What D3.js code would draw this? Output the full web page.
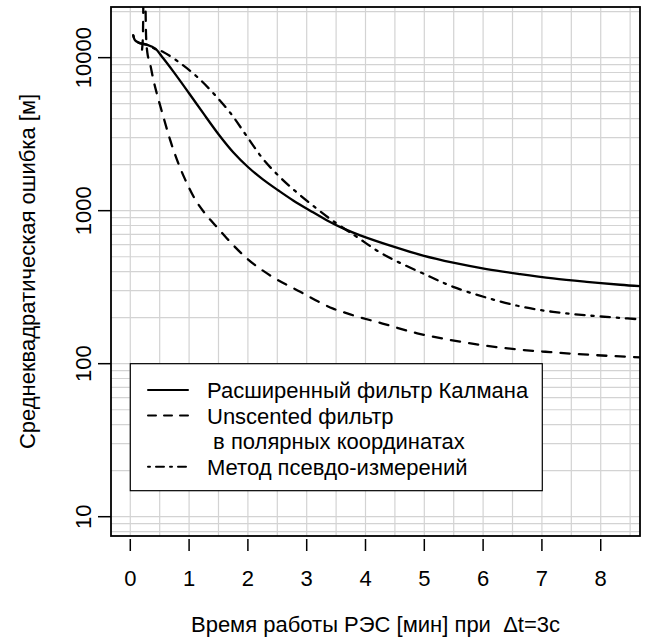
<!DOCTYPE html>
<html lang="ru">
<head>
<meta charset="utf-8">
<title>Среднеквадратическая ошибка</title>
<style>
  body { margin: 0; background: #fff; }
  text { font-family: "Liberation Sans", Arial, Helvetica, sans-serif; fill: #000; white-space: pre; }
</style>
</head>
<body>
<script src="https://d3js.org/d3.v7.min.js"></script>
<script>

var w = 645, h = 638;

// время работы [мин] и ошибка [м] для трёх методов
var ekfX = [0.05, 0.08, 0.15, 0.28, 0.42, 0.56, 0.73, 0.99, 1.24, 1.50, 1.75, 2.01, 2.26, 2.52, 2.77, 3.06, 3.34, 3.62, 3.91, 4.53, 4.98, 5.49, 6.06, 6.63, 7.19, 7.76, 8.33, 8.67];
var ekfY = [14000, 13000, 12500, 12150, 11500, 9900, 8130, 5920, 4335, 3160, 2410, 1915, 1596, 1355, 1167, 1000, 867, 766, 690, 573, 508, 457, 415, 385, 361, 343, 328, 321];

var ukfX = [0.20, 0.215, 0.235, 0.25, 0.268, 0.29, 0.335, 0.39, 0.48, 0.56, 0.675, 0.79, 0.93, 1.10, 1.30, 1.50, 1.64, 1.99, 2.38, 2.89, 3.45, 3.74, 4.29, 4.88, 5.44, 6.00, 6.58, 7.14, 7.70, 8.67];
var ukfY = [11300, 14000, 60000, 40000, 14000, 10800, 9200, 7250, 5310, 4140, 2920, 2170, 1607, 1190, 929, 760, 661, 485, 377, 295, 229, 210, 183, 158, 143, 132, 124, 119, 115, 110];

var pmX = [0.05, 0.08, 0.15, 0.28, 0.42, 0.56, 0.85, 1.13, 1.41, 1.70, 1.98, 2.26, 2.55, 2.83, 3.11, 3.40, 3.68, 3.85, 4.30, 5.10, 5.49, 6.06, 6.63, 7.19, 7.76, 8.33, 8.67];
var pmY = [14000, 13000, 12500, 12150, 11400, 10900, 9200, 7530, 5870, 4360, 3070, 2170, 1650, 1318, 1077, 883, 745, 675, 519, 370, 318, 270, 237, 218, 207, 199, 195];

var xTicks = [0, 1, 2, 3, 4, 5, 6, 7, 8];
var yTicks = [10, 100, 1000, 10000];

var legendLabels = ["Расширенный фильтр Калмана", "Unscented фильтр", " в полярных координатах", "Метод псевдо-измерений"];

var pLeft = 111, pRight = 640, pTop = 7, pBottom = 536;
var fs = 22;

var x = d3.scaleLinear().domain([-0.328, 8.668]).range([pLeft, pRight]);
var y = d3.scaleLog().domain([7.48, 21430]).range([pBottom, pTop]);

var svg = d3.select("body")
    .append("svg")
    .attr("width", w)
    .attr("height", h);

svg.append("clipPath").attr("id", "plotclip")
    .append("rect")
    .attr("x", pLeft).attr("y", pTop)
    .attr("width", pRight - pLeft).attr("height", pBottom - pTop);

// сетка
var gridX = d3.range(0, 8.6, 0.5);
var gridY = [];
[1, 10, 100, 1000, 10000].forEach(function(d) {
    for (var k = 1; k <= 9; k++) {
        var v = k * d;
        if (v >= y.domain()[0] && v <= y.domain()[1]) gridY.push(v);
    }
});

var grid = svg.append("g").attr("stroke", "#d3d3d3").attr("stroke-width", 1.2);
grid.selectAll("line.gx")
    .data(gridX)
    .enter()
    .append("line")
    .attr("x1", function(d) { return x(d); })
    .attr("x2", function(d) { return x(d); })
    .attr("y1", pTop).attr("y2", pBottom);
grid.selectAll("line.gy")
    .data(gridY)
    .enter()
    .append("line")
    .attr("y1", function(d) { return y(d); })
    .attr("y2", function(d) { return y(d); })
    .attr("x1", pLeft).attr("x2", pRight);

// кривые
function lineWith(curve) {
    return d3.line()
        .x(function(d) { return x(d[0]); })
        .y(function(d) { return y(d[1]); })
        .curve(curve);
}
var smooth = lineWith(d3.curveCatmullRom.alpha(0.5));
var mono = lineWith(d3.curveMonotoneX);

function pairs(xs, ys) { return xs.map(function(v, i) { return [v, ys[i]]; }); }

var lw = 2.3;
var series = [
    { data: pairs(ekfX, ekfY), dash: null, gen: smooth },
    { data: pairs(ukfX, ukfY), dash: [4 * lw, 4 * lw].join(","), gen: mono },
    { data: pairs(pmX, pmY), dash: [1 * lw, 3 * lw, 4 * lw, 3 * lw].join(","), gen: smooth }
];

svg.append("g").attr("clip-path", "url(#plotclip)")
    .selectAll("path")
    .data(series)
    .enter()
    .append("path")
    .attr("d", function(d) { return d.gen(d.data); })
    .attr("fill", "none")
    .attr("stroke", "#000")
    .attr("stroke-width", lw)
    .attr("stroke-linecap", "round")
    .attr("stroke-linejoin", "round")
    .attr("stroke-dasharray", function(d) { return d.dash; });

// легенда
var lg = svg.append("g");
lg.append("rect")
    .attr("x", x(0)).attr("y", y(100))
    .attr("width", 412).attr("height", 127)
    .attr("fill", "#fff")
    .attr("stroke", "#000")
    .attr("stroke-width", 1.2);

var rowY = [390, 415.6, 441.2, 466.8];
var legDash = [null, "8,8", "none", "2,6,8,6"];
legendLabels.forEach(function(t, i) {
    if (legDash[i] !== "none") {
        lg.append("line")
            .attr("x1", 148).attr("x2", 188)
            .attr("y1", rowY[i]).attr("y2", rowY[i])
            .attr("stroke", "#000")
            .attr("stroke-width", 2)
            .attr("stroke-linecap", "round")
            .attr("stroke-dasharray", legDash[i]);
    }
    lg.append("text")
        .attr("x", 207).attr("y", rowY[i])
        .attr("dy", "0.36em")
        .attr("font-size", fs)
        .text(t);
});

// оси
var ax = svg.append("g");
ax.selectAll("line.tx")
    .data(xTicks)
    .enter()
    .append("line")
    .attr("x1", function(d) { return x(d); })
    .attr("x2", function(d) { return x(d); })
    .attr("y1", pBottom + 3).attr("y2", pBottom + 15)
    .attr("stroke", "#000").attr("stroke-width", 1.5);
ax.selectAll("text.tx")
    .data(xTicks)
    .enter()
    .append("text")
    .attr("x", function(d) { return x(d); })
    .attr("y", 586)
    .attr("text-anchor", "middle")
    .attr("font-size", fs)
    .text(function(d) { return d; });

ax.selectAll("line.ty")
    .data(yTicks)
    .enter()
    .append("line")
    .attr("y1", function(d) { return y(d); })
    .attr("y2", function(d) { return y(d); })
    .attr("x1", pLeft - 13).attr("x2", pLeft)
    .attr("stroke", "#000").attr("stroke-width", 1.5);
ax.selectAll("text.ty")
    .data(yTicks)
    .enter()
    .append("text")
    .attr("transform", function(d) { return "translate(91," + y(d) + ") rotate(-90)"; })
    .attr("text-anchor", "middle")
    .attr("font-size", fs)
    .text(function(d) { return d; });

svg.append("rect")
    .attr("x", pLeft).attr("y", pTop)
    .attr("width", pRight - pLeft).attr("height", pBottom - pTop)
    .attr("fill", "none")
    .attr("stroke", "#000")
    .attr("stroke-width", 1.8);

svg.append("text")
    .attr("x", (pLeft + pRight) / 2).attr("y", 632)
    .attr("text-anchor", "middle")
    .attr("font-size", fs)
    .text("Время работы РЭС [мин] при  Δt=3с");

svg.append("text")
    .attr("transform", "translate(35," + ((pTop + pBottom) / 2) + ") rotate(-90)")
    .attr("text-anchor", "middle")
    .attr("font-size", fs)
    .text("Среднеквадратическая ошибка [м]");

</script>
</body>
</html>
